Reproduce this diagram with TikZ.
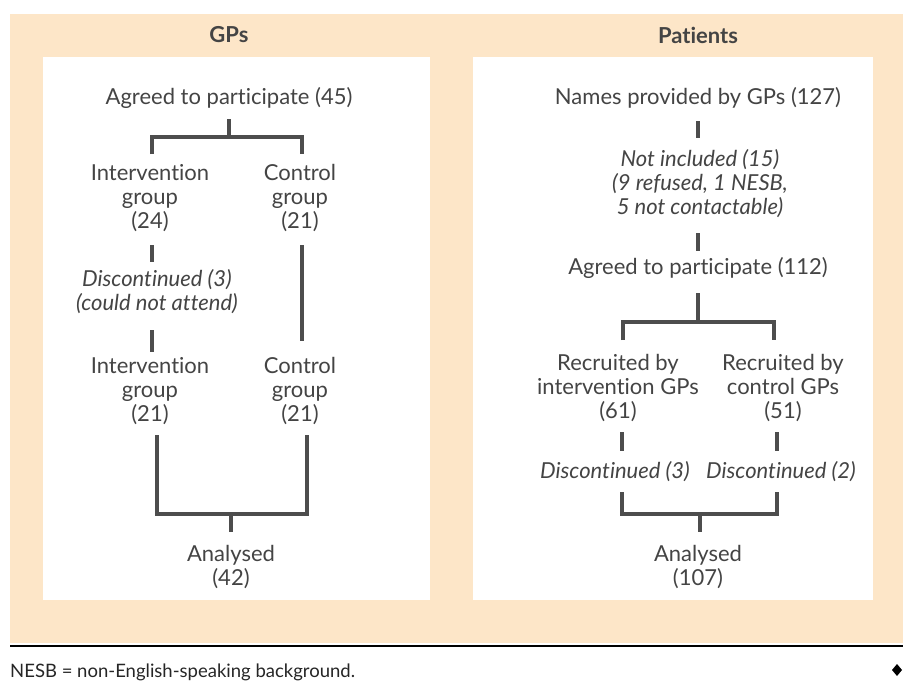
\documentclass[tikz,border=0pt]{standalone}
\usepackage{fontspec}
\setmainfont[Ligatures={NoCommon,NoRare,NoDiscretionary}]{Lato}
\definecolor{peach}{HTML}{FDE6C8}
\definecolor{ink}{HTML}{444444}
\definecolor{linec}{HTML}{4D4D4D}
\begin{document}
\begin{tikzpicture}[x=1pt,y=-1pt,
  txt/.style={font=\fontsize{22}{24}\selectfont, text=ink, align=center, inner sep=0pt},
  itx/.style={txt, font=\fontsize{22}{24}\selectfont\itshape},
  head/.style={font=\fontsize{22}{24}\selectfont\bfseries, text=ink, inner sep=0pt},
  conn/.style={draw=linec, line width=3.5pt, line join=miter}]
\useasboundingbox (0,0) rectangle (903,694);
\fill[white] (0,0) rectangle (903,694);
\fill[peach] (10,14) rectangle (903,643);
\fill[white] (43,57) rectangle (430,600);
\fill[white] (473,57) rectangle (873,600);
\draw[black, line width=2.5pt] (10,646) -- (903,646);

% headings
\node[head] (hgp) at (229,35) {GPs};
\node[head] (hpt) at (698,35) {Patients};

% left tree
\node[txt] (agL) at (229,98) {Agreed to participate (45)};
\node[txt] (ig1) at (150,198) {Intervention\\group\\(24)};
\node[txt] (cg1) at (300,198) {Control\\group\\(21)};
\node[itx] (dsL) at (157,292) {Discontinued (3)\\(could not attend)};
\node[txt] (ig2) at (150,391) {Intervention\\group\\(21)};
\node[txt] (cg2) at (300,391) {Control\\group\\(21)};
\node[txt] (anL) at (231,567) {Analysed\\(42)};

\coordinate (l1) at (229,119); \coordinate (l2) at (229,137);
\coordinate (l3) at (152,154); \coordinate (l4) at (152,137);
\coordinate (l5) at (302,137); \coordinate (l6) at (302,154);
\draw[conn] (l1) -- (l2);
\draw[conn] (l3) -- (l4) -- (l5) -- (l6);
\coordinate (l7) at (152,245); \coordinate (l8) at (152,262);
\coordinate (l9) at (152,330); \coordinate (l10) at (152,352);
\draw[conn] (l7) -- (l8);
\draw[conn] (l9) -- (l10);
\coordinate (l11) at (302,245); \coordinate (l12) at (302,341);
\draw[conn] (l11) -- (l12);
\coordinate (l13) at (157,435); \coordinate (l14) at (157,514);
\coordinate (l15) at (307,514); \coordinate (l16) at (307,435);
\draw[conn] (l13) -- (l14) -- (l15) -- (l16);
\coordinate (l17) at (231,514); \coordinate (l18) at (231,532);
\draw[conn] (l17) -- (l18);

% right tree
\node[txt] (nm) at (698,98) {Names provided by GPs (127)};
\node[itx] (ni) at (700,184) {Not included (15)\\(9 refused, 1 NESB,\\5 not contactable)};
\node[txt] (agR) at (698,268) {Agreed to participate (112)};
\node[txt] (ri) at (618,388) {Recruited by\\intervention GPs\\(61)};
\node[txt] (rc) at (783,388) {Recruited by\\control GPs\\(51)};
\node[itx] (d1) at (615,472) {Discontinued (3)};
\node[itx] (d2) at (781,472) {Discontinued (2)};
\node[txt] (anR) at (698,567) {Analysed\\(107)};

\coordinate (r1) at (698,121); \coordinate (r2) at (698,138);
\coordinate (r3) at (698,233); \coordinate (r4) at (698,251);
\draw[conn] (r1) -- (r2);
\draw[conn] (r3) -- (r4);
\coordinate (r5) at (698,293); \coordinate (r6) at (698,322);
\draw[conn] (r5) -- (r6);
\coordinate (r7) at (623,340); \coordinate (r8) at (623,322);
\coordinate (r9) at (774,322); \coordinate (r10) at (774,340);
\draw[conn] (r7) -- (r8) -- (r9) -- (r10);
\coordinate (r11) at (622,432); \coordinate (r12) at (622,451);
\coordinate (r13) at (777,432); \coordinate (r14) at (777,451);
\draw[conn] (r11) -- (r12);
\draw[conn] (r13) -- (r14);
\coordinate (r15) at (622,492); \coordinate (r16) at (622,514);
\coordinate (r17) at (777,514); \coordinate (r18) at (777,492);
\draw[conn] (r15) -- (r16) -- (r17) -- (r18);
\coordinate (r19) at (700,514); \coordinate (r20) at (700,532);
\draw[conn] (r19) -- (r20);

% footnote
\node[font=\fontsize{18.5}{20}\selectfont, text=black!85, anchor=west, inner sep=0pt] (fn) at (10,672) {NESB = non-English-speaking background.};
\fill[black] (897,664) -- (902,670) -- (897,676) -- (892,670) -- cycle;
\end{tikzpicture}
\end{document}
